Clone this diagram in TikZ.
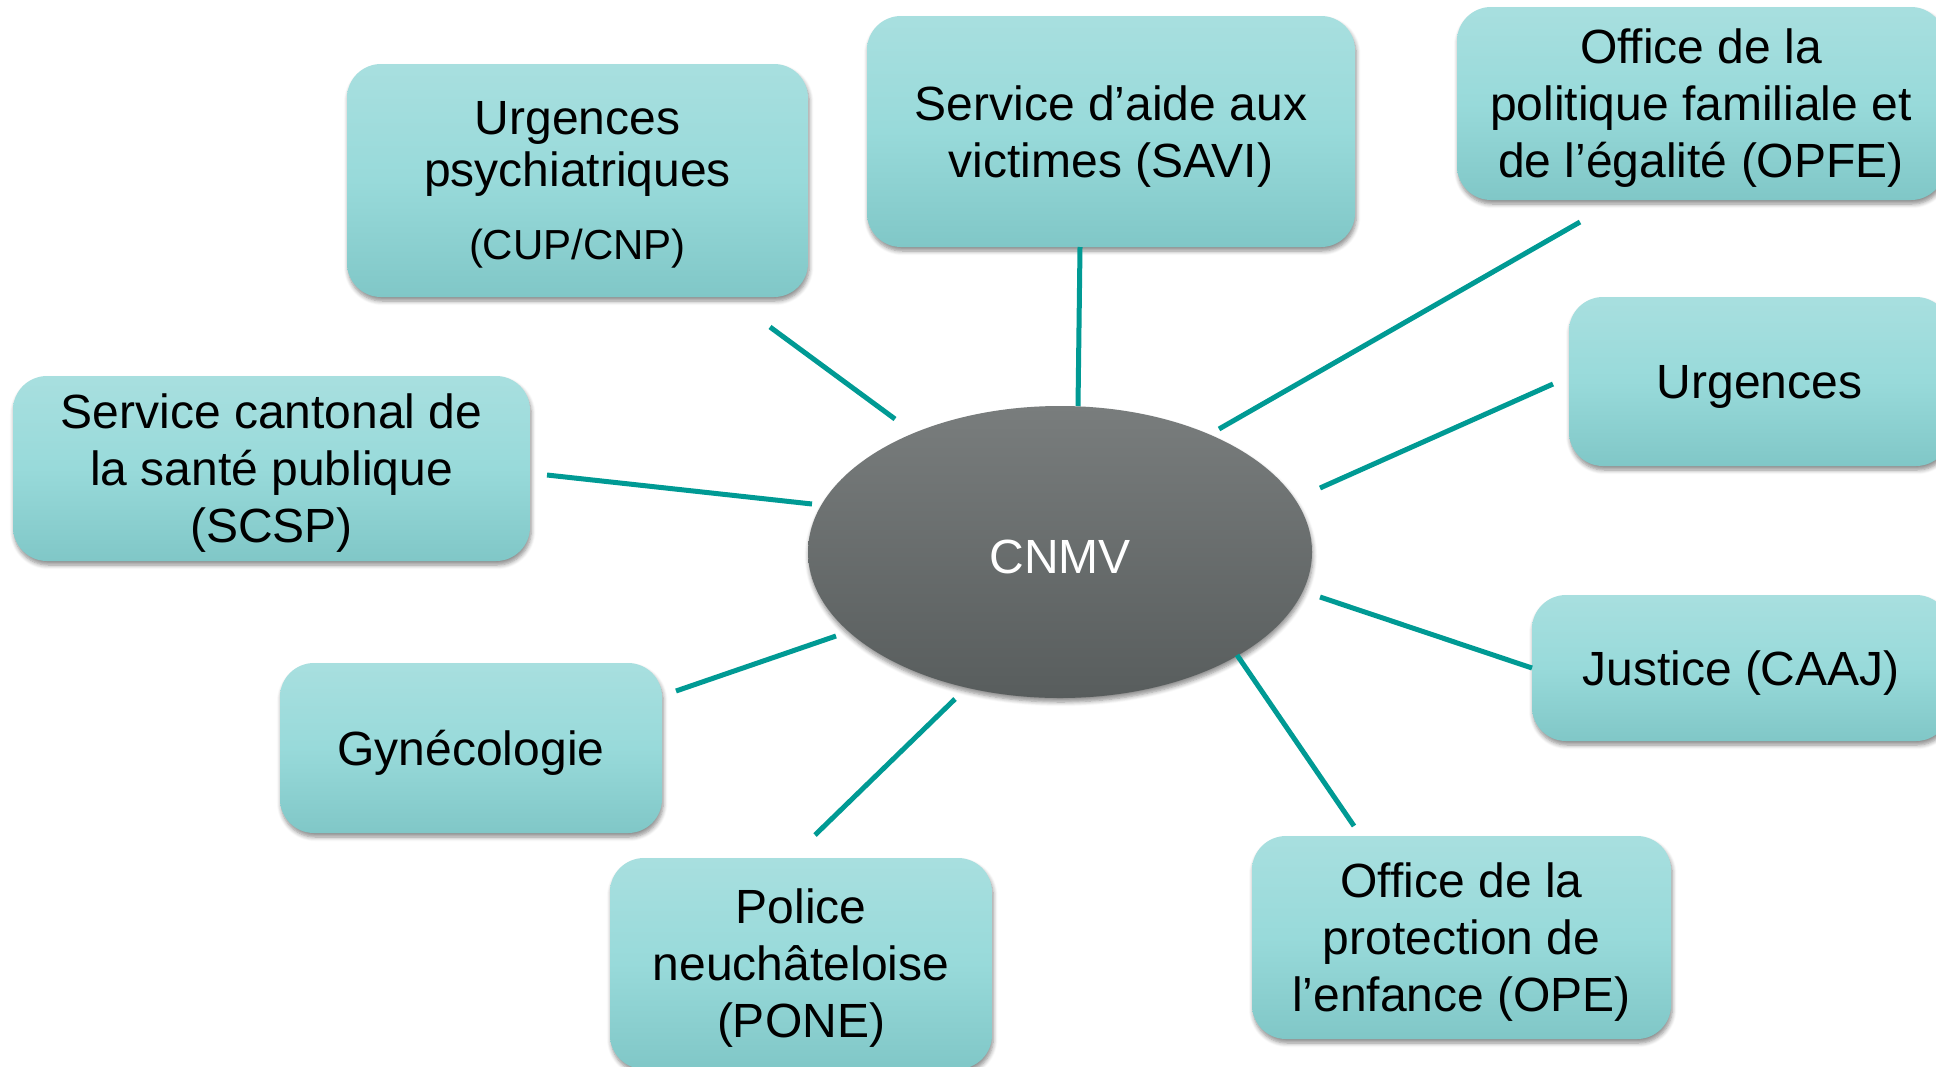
\documentclass[tikz,border=0pt]{standalone}
\usepackage{fontspec}
\setmainfont{Liberation Sans}
\usetikzlibrary{shapes.geometric,shadows.blur}

\definecolor{linkteal}{RGB}{0,154,148}
\definecolor{boxtop}{RGB}{168,223,223}
\definecolor{boxmid}{RGB}{152,218,218}
\definecolor{boxbot}{RGB}{128,199,199}
\definecolor{ovaltop}{RGB}{121,125,125}
\definecolor{ovalbot}{RGB}{88,93,93}

\begin{document}
\begin{tikzpicture}[x=0.5pt, y=-0.5pt,
    unit/.style={rounded corners=17pt, top color=boxtop, bottom color=boxbot, middle color=boxmid,
        blur shadow={shadow xshift=0.6pt, shadow yshift=-2pt, shadow blur steps=6, shadow opacity=45},
        align=center, inner sep=0pt, text depth=0pt, font=\fontsize{24}{28.5}\selectfont},
    link/.style={draw=linkteal, line width=2.5pt}]
    \useasboundingbox (0,0) rectangle (1936,1066);

    % Centre: CNMV
    \node[ellipse, minimum width=252pt, minimum height=146pt, inner sep=0pt,
        top color=ovaltop, bottom color=ovalbot, text=white, text height=21pt, text depth=0pt,
        blur shadow={shadow xshift=0.4pt, shadow yshift=-2pt, shadow blur steps=6, shadow opacity=45},
        font=\fontsize{24}{28.5}\selectfont] (cnmv) at (1060,552) {CNMV};

    % Partner boxes, clockwise from the top left
    \node[unit, minimum width=230.5pt, minimum height=116.5pt] (psych) at (577.5,180.5)
        {Urgences\\[-2.5pt] psychiatriques\\[8pt] {\fontsize{21}{25}\selectfont (CUP/CNP)}};
    \node[unit, minimum width=244pt, minimum height=115.5pt] (savi) at (1111,131.5)
        {Service d’aide aux\\ victimes (SAVI)};
    \node[unit, minimum width=244pt, minimum height=96.5pt] (opfe) at (1701,103.5)
        {Office de la\\ politique familiale et\\ de l’égalité (OPFE)};
    \node[unit, minimum width=190.5pt, minimum height=84.5pt] (urg) at (1759.5,381.5)
        {Urgences};
    \node[unit, minimum width=209pt, minimum height=73pt] (caaj) at (1741,668)
        {Justice (CAAJ)};
    \node[unit, minimum width=209.5pt, minimum height=101.5pt] (ope) at (1461.5,937.5)
        {Office de la\\ protection de\\ l’enfance (OPE)};
    \node[unit, minimum width=191pt, minimum height=105.5pt] (pone) at (801,963.5)
        {Police\\ neuchâteloise\\ (PONE)};
    \node[unit, minimum width=191pt, minimum height=85pt] (gyn) at (471,748)
        {Gynécologie};
    \node[unit, minimum width=258.5pt, minimum height=92.5pt] (scsp) at (271.5,468.5)
        {Service cantonal de\\ la santé publique\\ (SCSP)};

    % Spokes, free at both ends
    \coordinate (psych-a) at (770,327);   \coordinate (psych-b) at (895,419);
    \coordinate (savi-a) at (1080,247);   \coordinate (savi-b) at (1078,406);
    \coordinate (opfe-a) at (1580,222);   \coordinate (opfe-b) at (1219,429);
    \coordinate (urg-a) at (1553,384);    \coordinate (urg-b) at (1320,488);
    \coordinate (caaj-a) at (1532,668);   \coordinate (caaj-b) at (1320,597);
    \coordinate (ope-a) at (1354,826);    \coordinate (ope-b) at (1237,655);
    \coordinate (pone-a) at (815,835);    \coordinate (pone-b) at (955,699);
    \coordinate (gyn-a) at (676,691);     \coordinate (gyn-b) at (836,636);
    \coordinate (scsp-a) at (547,475);    \coordinate (scsp-b) at (812,504);
    \foreach \s in {psych,savi,opfe,urg,caaj,ope,pone,gyn,scsp}
        \draw[link] (\s-a) -- (\s-b);
\end{tikzpicture}
\end{document}
